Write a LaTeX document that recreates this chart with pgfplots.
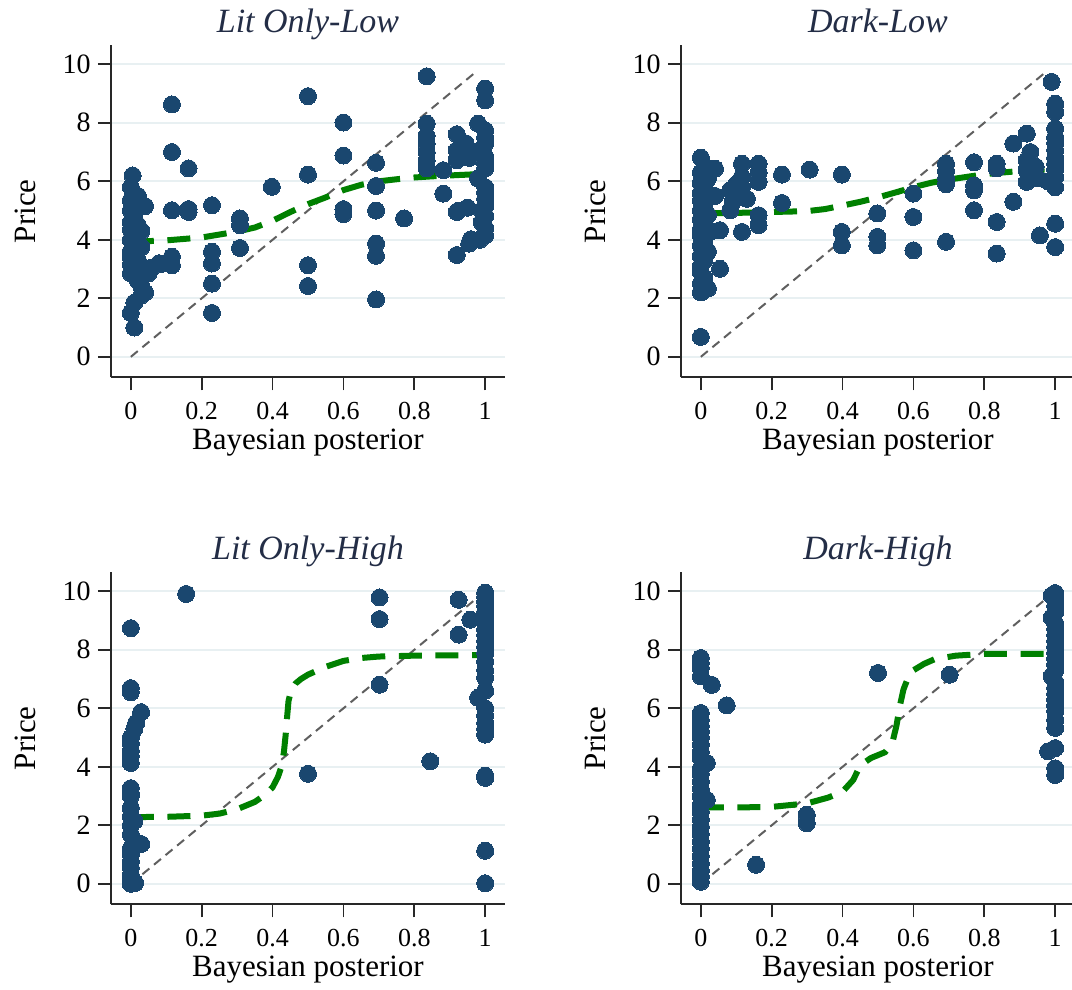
\documentclass[border=0pt]{standalone}
\usepackage{pgfplots}
\pgfplotsset{compat=1.18}
\usepackage{fontspec}
\setmainfont{Liberation Serif}
\definecolor{navy}{RGB}{26,71,111}
\definecolor{fitgreen}{RGB}{0,128,0}
\definecolor{diaggray}{RGB}{95,95,95}
\definecolor{gridc}{RGB}{232,240,242}
\definecolor{titlec}{RGB}{35,45,70}
\definecolor{axisc}{RGB}{40,40,40}
\pgfplotsset{
  panel/.style={
    scale only axis, width=197pt, height=166pt,
    xmin=-0.056, xmax=1.056, ymin=-0.7, ymax=10.65,
    axis lines*=left, axis line style={-, line width=0.9pt, color=axisc},
    xtick={0,0.2,0.4,0.6,0.8,1}, ytick={0,2,4,6,8,10},
    tick align=outside, major tick length=6.5pt,
    tick style={line width=0.9pt, color=axisc},
    ymajorgrids, grid style={line width=1pt, color=gridc},
    /pgf/number format/assume math mode=true,
    xticklabel style={font=\fontsize{13}{13}\selectfont, inner sep=0pt, anchor=base, yshift=-14.5pt},
    yticklabel style={font=\fontsize{14}{14}\selectfont, inner sep=0pt, anchor=east, xshift=-3.5pt},
    xlabel={Bayesian posterior}, ylabel={Price},
    xlabel style={font=\fontsize{15.5}{15.5}\selectfont, at={(axis description cs:0.5,-0.217)}, anchor=base},
    ylabel style={font=\fontsize{15.5}{15.5}\selectfont, at={(axis description cs:-0.192,0.5)}, anchor=base, rotate=0},
    title style={font=\fontsize{17}{17}\selectfont\itshape, text=titlec, at={(axis description cs:0.5,1.042)}, anchor=base, yshift=-6.5pt},
  },
  dots/.style={only marks, mark=*, mark size=4.25pt, mark options={fill=navy, draw=navy, line width=0pt}},
  diag/.style={no marks, line width=1pt, color=diaggray, dash pattern=on 4.5pt off 3pt},
  fit/.style={no marks, line width=3pt, color=fitgreen, dash pattern=on 11.5pt off 6.8pt},
}
\begin{document}
\begin{tikzpicture}
\useasboundingbox (0,0) rectangle (536pt,495pt);
% ---------------- Lit Only-Low ----------------
\begin{axis}[panel, at={(55.5pt,306.35pt)}, title={Lit Only-Low}]
\addplot[dots] coordinates {
(0.005,6.2)(0.0,5.8)(0.01,5.55)(0.0,5.35)(0.02,5.5)(0.03,5.2)(0.04,5.15)(0.0,5.0)(0.01,4.8)(0.0,4.6)
(0.02,4.5)(0.0,4.35)(0.01,4.2)(0.03,4.3)(0.0,4.0)(0.02,3.95)(0.01,3.8)(0.03,3.75)(0.0,3.6)(0.0,3.4)
(0.02,3.3)(0.0,3.15)(0.01,3.0)(0.0,2.85)(0.03,2.9)(0.05,2.85)(0.06,3.05)(0.08,3.2)(0.02,2.6)(0.03,2.4)
(0.04,2.2)(0.03,2.1)(0.01,1.85)(0.0,1.5)(0.01,1.0)
(0.116,8.63)(0.116,7.0)(0.116,5.01)(0.116,3.42)(0.116,3.13)(0.087,3.18)
(0.163,6.44)(0.163,5.05)(0.163,4.95)
(0.229,5.18)(0.229,3.59)(0.229,3.19)(0.229,2.5)(0.229,1.5)
(0.308,4.73)(0.308,4.5)(0.308,3.72)
(0.398,5.81)
(0.5,8.91)(0.5,6.23)(0.5,3.13)(0.5,2.42)
(0.6,8.01)(0.6,6.88)(0.6,5.05)(0.6,4.88)
(0.692,6.63)(0.692,5.84)(0.692,5.0)(0.692,3.87)(0.692,3.45)(0.692,1.96)
(0.771,4.73)
(0.835,9.59)(0.835,7.97)(0.835,7.55)(0.835,7.29)(0.835,7.0)(0.835,6.7)(0.835,6.44)
(0.882,6.38)(0.882,5.58)
(0.92,7.61)(0.92,7.06)(0.92,6.72)(0.92,4.95)(0.92,3.48)(0.925,5.0)
(0.945,7.3)(0.95,7.0)(0.955,6.8)(0.95,5.1)(0.96,4.02)(0.955,3.87)
(1.0,9.17)(1.0,8.77)(0.98,7.97)(1.0,7.74)(1.0,7.5)(1.0,7.29)(0.99,7.1)(1.0,6.84)(1.0,6.6)(1.0,6.44)
(0.98,6.1)(1.0,5.8)(1.0,5.62)(1.0,5.4)(1.0,5.16)(0.99,5.0)(1.0,4.82)(0.99,4.6)(1.0,4.4)(1.0,4.15)(0.985,4.0)
};
\addplot[diag] coordinates {(0,0) (0.975,9.75)};
\addplot[fit] coordinates {
(0,3.93)(0.1,3.98)(0.2,4.08)(0.3,4.28)(0.35,4.42)(0.4,4.65)(0.45,4.95)(0.5,5.22)(0.55,5.45)
(0.6,5.7)(0.65,5.88)(0.7,6.0)(0.75,6.07)(0.8,6.13)(0.85,6.17)(0.9,6.2)(0.97,6.24)
};
\end{axis}
% ---------------- Dark-Low ----------------
\begin{axis}[panel, at={(340.5pt,306.35pt)}, title={Dark-Low}]
\addplot[dots] coordinates {
(0.0,6.81)(0.01,6.5)(0.0,6.3)(0.02,6.1)(0.0,5.95)(0.01,5.8)(0.0,5.6)(0.02,5.5)(0.0,5.35)(0.01,5.15)
(0.0,5.0)(0.02,4.85)(0.0,4.7)(0.01,4.5)(0.0,4.35)(0.03,4.3)(0.0,4.15)(0.01,4.0)(0.0,3.8)(0.02,3.6)
(0.0,3.45)(0.01,3.3)(0.0,3.1)(0.0,2.9)(0.01,2.7)(0.0,2.5)(0.02,2.33)(0.0,2.2)(0.0,0.68)
(0.04,6.43)(0.054,4.33)(0.054,3.01)(0.04,5.5)
(0.116,6.6)(0.116,6.15)(0.116,5.8)(0.116,4.27)(0.083,5.01)(0.083,5.7)(0.1,5.9)(0.09,5.3)(0.13,5.4)
(0.163,6.6)(0.163,6.3)(0.163,5.98)(0.163,4.84)(0.163,4.5)
(0.229,6.23)(0.229,5.26)
(0.307,6.4)
(0.398,6.23)(0.398,4.27)(0.398,3.81)
(0.498,4.9)(0.498,4.1)(0.498,3.81)
(0.6,5.58)(0.6,4.78)(0.6,3.64)
(0.692,6.6)(0.692,6.35)(0.692,6.1)(0.692,5.9)(0.692,3.93)
(0.771,6.65)(0.771,5.86)(0.771,5.69)(0.771,5.01)
(0.835,6.6)(0.835,6.44)(0.835,4.61)(0.835,3.53)
(0.882,7.29)(0.882,5.3)
(0.92,7.63)(0.92,6.72)(0.92,6.38)(0.92,5.98)(0.93,7.0)(0.945,6.5)(0.95,6.1)(0.957,4.15)
(0.99,9.4)(1.0,8.65)(1.0,8.37)(1.0,7.8)(1.0,7.5)(1.0,7.3)(1.0,7.06)(1.0,6.8)(1.0,6.6)(1.0,6.4)
(1.0,6.15)(0.98,6.0)(1.0,5.8)(1.0,4.55)(1.0,3.75)
};
\addplot[diag] coordinates {(0,0) (0.975,9.75)};
\addplot[fit] coordinates {
(0,4.9)(0.1,4.92)(0.2,4.95)(0.3,4.98)(0.35,5.05)(0.4,5.17)(0.45,5.3)(0.5,5.45)(0.55,5.62)
(0.6,5.8)(0.65,5.95)(0.7,6.06)(0.75,6.15)(0.8,6.24)(0.85,6.3)(0.9,6.35)(0.97,6.4)
};
\end{axis}
% ---------------- Lit Only-High ----------------
\begin{axis}[panel, at={(55.5pt,42.85pt)}, title={Lit Only-High}]
\addplot[dots] coordinates {
(0.0,8.74)(0.0,6.69)(0.0,6.55)(0.029,5.87)(0.015,5.5)(0.01,5.3)(0.0,5.0)(0.0,4.8)(0.0,4.55)(0.0,4.36)
(0.0,4.13)(0.0,3.27)(0.0,3.1)(0.0,3.0)(0.0,2.6)(0.0,2.3)(0.01,2.15)(0.0,2.0)(0.0,1.68)(0.029,1.36)
(0.0,1.2)(0.0,1.0)(0.0,0.76)(0.0,0.55)(0.0,0.3)(0.0,0.14)(0.012,0.03)(0.0,0.0)
(0.156,9.91)
(0.5,3.76)
(0.702,9.79)(0.702,9.05)(0.702,6.81)
(0.845,4.19)
(0.925,9.71)(0.925,8.52)(0.958,9.03)
(1.0,9.95)(1.0,9.8)(1.0,9.65)(1.0,9.5)(1.0,9.3)(1.0,9.1)(1.0,8.9)(1.0,8.7)(1.0,8.5)(1.0,8.3)
(1.0,8.1)(1.0,7.9)(1.0,7.6)(1.0,7.3)(1.0,7.05)(0.98,6.36)(1.0,6.6)(1.0,6.0)(1.0,5.75)(1.0,5.5)
(1.0,5.3)(1.0,5.1)(1.0,3.7)(1.0,3.62)(1.0,1.13)(1.0,0.02)
};
\addplot[diag] coordinates {(0,0) (0.975,9.75)};
\addplot[fit] coordinates {
(0,2.28)(0.1,2.29)(0.2,2.33)(0.25,2.4)(0.3,2.55)(0.35,2.8)(0.38,3.05)(0.40,3.3)(0.415,3.65)
(0.425,4.0)(0.432,4.5)(0.437,5.1)(0.441,5.7)(0.445,6.25)(0.452,6.6)(0.465,6.85)(0.48,7.0)
(0.5,7.15)(0.55,7.42)(0.6,7.62)(0.65,7.72)(0.7,7.77)(0.8,7.8)(1.0,7.82)
};
\end{axis}
% ---------------- Dark-High ----------------
\begin{axis}[panel, at={(340.5pt,42.85pt)}, title={Dark-High}]
\addplot[dots] coordinates {
(0.0,7.72)(0.0,7.55)(0.0,7.38)(0.0,7.09)(0.031,6.8)(0.073,6.1)(0.0,5.84)(0.0,5.6)(0.0,5.4)(0.0,5.21)
(0.0,5.0)(0.0,4.76)(0.0,4.5)(0.0,4.3)(0.017,4.13)(0.0,3.95)(0.0,3.75)(0.0,3.5)(0.0,3.25)(0.0,3.0)
(0.017,2.87)(0.0,2.7)(0.0,2.45)(0.0,2.2)(0.0,1.95)(0.0,1.7)(0.0,1.45)(0.0,1.2)(0.0,0.95)(0.0,0.7)
(0.0,0.45)(0.0,0.25)(0.0,0.07)
(0.156,0.65)
(0.299,2.36)(0.299,2.07)
(0.5,7.21)
(0.702,7.15)
(1.0,9.94)(0.99,9.85)(1.0,9.7)(1.0,9.5)(1.0,9.3)(0.99,9.1)(1.0,8.9)(1.0,8.7)(1.0,8.5)(1.0,8.3)
(1.0,8.1)(1.0,7.9)(1.0,7.7)(1.0,7.5)(1.0,7.3)(0.99,7.1)(1.0,6.9)(1.0,6.7)(1.0,6.5)(1.0,6.3)
(1.0,6.1)(1.0,5.9)(1.0,5.6)(1.0,5.33)(0.98,4.53)(1.0,4.64)(1.0,3.95)(1.0,3.72)
};
\addplot[diag] coordinates {(0,0) (0.975,9.75)};
\addplot[fit] coordinates {
(0,2.61)(0.1,2.61)(0.2,2.63)(0.3,2.75)(0.36,2.95)(0.4,3.15)(0.43,3.55)(0.45,4.05)(0.48,4.3)
(0.52,4.5)(0.54,4.8)(0.552,5.4)(0.562,6.1)(0.572,6.65)(0.585,7.05)(0.6,7.3)(0.63,7.52)(0.66,7.68)
(0.72,7.8)(0.8,7.86)(1.0,7.86)
};
\end{axis}
\end{tikzpicture}
\end{document}
